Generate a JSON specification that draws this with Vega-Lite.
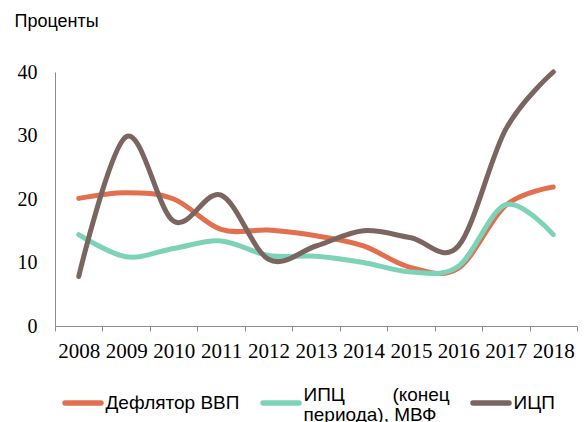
{
  "$schema": "https://vega.github.io/schema/vega-lite/v6.json",
  "width": 522,
  "height": 254,
  "autosize": {"type": "none"},
  "padding": {"left": 55, "top": 72, "right": 8, "bottom": 96},
  "background": "white",
  "config": {"view": {"stroke": null}, "font": "Liberation Sans"},
  "data": {
    "values": [
      {"year": "2008", "series": "Дефлятор ВВП", "value": 20.1},
      {"year": "2009", "series": "Дефлятор ВВП", "value": 21.0},
      {"year": "2010", "series": "Дефлятор ВВП", "value": 20.0},
      {"year": "2011", "series": "Дефлятор ВВП", "value": 15.2},
      {"year": "2012", "series": "Дефлятор ВВП", "value": 15.1},
      {"year": "2013", "series": "Дефлятор ВВП", "value": 14.2},
      {"year": "2014", "series": "Дефлятор ВВП", "value": 12.6},
      {"year": "2015", "series": "Дефлятор ВВП", "value": 9.2},
      {"year": "2016", "series": "Дефлятор ВВП", "value": 9.1},
      {"year": "2017", "series": "Дефлятор ВВП", "value": 19.0},
      {"year": "2018", "series": "Дефлятор ВВП", "value": 21.9},
      {"year": "2008", "series": "ИПЦ (конец периода), МВФ", "value": 14.4},
      {"year": "2009", "series": "ИПЦ (конец периода), МВФ", "value": 10.9},
      {"year": "2010", "series": "ИПЦ (конец периода), МВФ", "value": 12.2},
      {"year": "2011", "series": "ИПЦ (конец периода), МВФ", "value": 13.4},
      {"year": "2012", "series": "ИПЦ (конец периода), МВФ", "value": 11.1},
      {"year": "2013", "series": "ИПЦ (конец периода), МВФ", "value": 11.0},
      {"year": "2014", "series": "ИПЦ (конец периода), МВФ", "value": 10.0},
      {"year": "2015", "series": "ИПЦ (конец периода), МВФ", "value": 8.5},
      {"year": "2016", "series": "ИПЦ (конец периода), МВФ", "value": 9.4},
      {"year": "2017", "series": "ИПЦ (конец периода), МВФ", "value": 19.1},
      {"year": "2018", "series": "ИПЦ (конец периода), МВФ", "value": 14.4},
      {"year": "2008", "series": "ИЦП", "value": 7.8},
      {"year": "2009", "series": "ИЦП", "value": 29.8},
      {"year": "2010", "series": "ИЦП", "value": 16.5},
      {"year": "2011", "series": "ИЦП", "value": 20.6},
      {"year": "2012", "series": "ИЦП", "value": 10.5},
      {"year": "2013", "series": "ИЦП", "value": 12.6},
      {"year": "2014", "series": "ИЦП", "value": 15.0},
      {"year": "2015", "series": "ИЦП", "value": 13.9},
      {"year": "2016", "series": "ИЦП", "value": 12.6},
      {"year": "2017", "series": "ИЦП", "value": 31.0},
      {"year": "2018", "series": "ИЦП", "value": 40.0}
    ]
  },
  "mark": {"type": "line", "interpolate": "cardinal", "strokeWidth": 5, "strokeCap": "round", "strokeJoin": "round"},
  "encoding": {
    "x": {
      "field": "year",
      "type": "ordinal",
      "bandPosition": 0.5,
      "scale": {"type": "band", "paddingInner": 0, "paddingOuter": 0},
      "axis": {
        "title": null,
        "labelAngle": 0,
        "tickBand": "extent",
        "labelFont": "Liberation Serif",
        "labelFontSize": 21,
        "labelColor": "#000000",
        "labelPadding": 9,
        "domainColor": "#8c8c8c",
        "tickColor": "#8c8c8c",
        "tickSize": 5,
        "grid": false
      }
    },
    "y": {
      "field": "value",
      "type": "quantitative",
      "scale": {"domain": [0, 40], "nice": false},
      "axis": {
        "values": [0, 10, 20, 30, 40],
        "grid": false,
        "ticks": false,
        "labelFont": "Liberation Serif",
        "labelFontSize": 20,
        "labelColor": "#000000",
        "labelPadding": 18,
        "domainColor": "#8c8c8c",
        "title": "Проценты",
        "titleAngle": 0,
        "titleAlign": "left",
        "titleBaseline": "alphabetic",
        "titleX": -41,
        "titleY": -46,
        "titleFont": "Liberation Sans",
        "titleFontSize": 18,
        "titleFontWeight": "normal",
        "titleColor": "#000000"
      }
    },
    "color": {
      "field": "series",
      "type": "nominal",
      "sort": ["Дефлятор ВВП", "ИПЦ (конец периода), МВФ", "ИЦП"],
      "scale": {
        "domain": ["Дефлятор ВВП", "ИПЦ (конец периода), МВФ", "ИЦП"],
        "range": ["#E2704E", "#7DD3B8", "#7A6561"]
      },
      "legend": {
        "orient": "none",
        "legendX": 7,
        "legendY": 310,
        "direction": "horizontal",
        "columns": 3,
        "gridAlign": "none",
        "title": null,
        "symbolType": "stroke",
        "symbolSize": 1296,
        "symbolStrokeWidth": 5.5,
        "labelFont": "Liberation Sans",
        "labelFontSize": 19,
        "labelColor": "#000000",
        "labelOffset": 1.5,
        "labelLimit": 400,
        "labelBaseline": "middle",
        "columnPadding": 12,
        "labelExpr": "datum.label == 'ИПЦ (конец периода), МВФ' ? ['ИПЦ\u00a0\u00a0\u00a0\u00a0\u00a0\u00a0\u00a0\u00a0\u00a0(конец', 'периода), МВФ'] : datum.label",
        "encode": {
          "symbols": {"update": {"strokeCap": {"value": "round"}}},
          "labels": {"update": {
            "dy": {"signal": "datum.label == 'ИПЦ (конец периода), МВФ' ? -8 : 0"},
            "lineHeight": {"value": 20}
          }}
        }
      }
    }
  }
}
